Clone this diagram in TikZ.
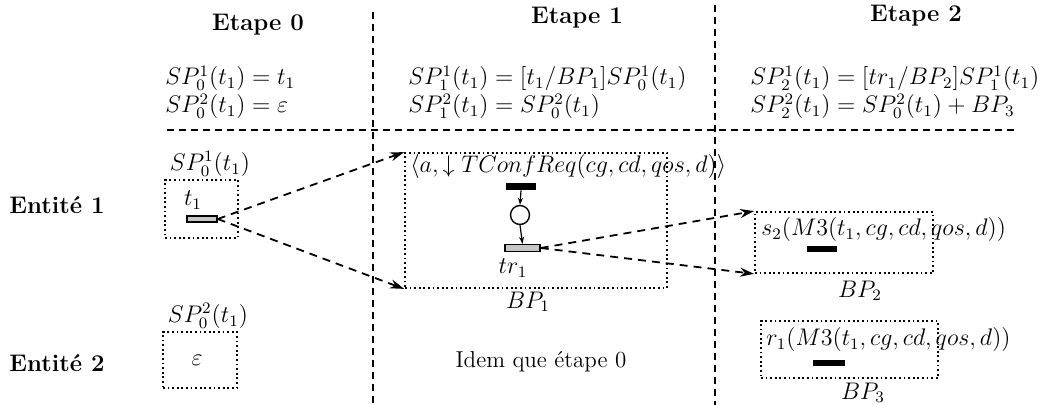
\documentclass[tikz,border=0pt]{standalone}
\usetikzlibrary{arrows.meta}
\begin{document}
\begin{tikzpicture}[x=0.5pt,y=-0.5pt,
  every node/.style={font=\fontsize{11.5}{13}\selectfont, inner sep=0pt},
  hd/.style={font=\fontsize{12}{14}\selectfont\bfseries},
  fml/.style={anchor=base west},
  dbox/.style={draw, line width=0.9pt, dash pattern=on 0.9pt off 1.4pt, rectangle, inner sep=0pt},
  sep/.style={line width=0.8pt, dash pattern=on 3.5pt off 2.5pt},
  link/.style={line width=0.9pt, dash pattern=on 4pt off 3pt, -{Stealth[length=7pt,width=4.5pt]}},
  hbar/.style={draw, line width=0.7pt, fill=gray!45, rectangle, inner sep=0pt},
  bbar/.style={fill=black, rectangle, inner sep=0pt},
  small/.style={line width=0.6pt, -{Stealth[length=3.5pt,width=2.5pt]}}
]
\useasboundingbox (0,0) rectangle (1041,405);

% headers
\node[hd] (e0) at (258,25) {Etape 0};
\node[hd] (e1) at (577,18) {Etape 1};
\node[hd] (e2) at (916,16) {Etape 2};

% formulas
\node[fml] (f01) at (165,85) {$SP^1_0(t_1) = t_1$};
\node[fml] (f02) at (165,113) {$SP^2_0(t_1) = \varepsilon$};
\node[fml] (f11) at (408,85) {$SP^1_1(t_1) = [t_1/BP_1]SP^1_0(t_1)$};
\node[fml] (f12) at (408,113) {$SP^2_1(t_1) = SP^2_0(t_1)$};
\node[fml] (f21) at (750,85) {$SP^1_2(t_1) = [tr_1/BP_2]SP^1_1(t_1)$};
\node[fml] (f22) at (750,113) {$SP^2_2(t_1) = SP^2_0(t_1) + BP_3$};

% separators
\draw[sep] (167,130) -- (1015,130);
\draw[sep] (373,12) -- (373,405);
\draw[sep] (715,5) -- (715,405);

% entities
\node[hd] (ent1) at (57,205) {Entité 1};
\node[hd] (ent2) at (57,363) {Entité 2};

% Etape 0 boxes
\node[dbox, minimum width=36.5pt, minimum height=29pt] (b01) at (201.5,209) {};
\node (l01) at (210,164) {$SP^1_0(t_1)$};
\node (t1) at (193,200) {$t_1$};
\node[hbar, minimum width=15pt, minimum height=3pt] (t1bar) at (202,219) {};

\node[dbox, minimum width=37pt, minimum height=28pt] (b02) at (200,360) {};
\node (l02) at (208,316) {$SP^2_0(t_1)$};
\node (eps) at (197,360) {$\varepsilon$};

% Etape 1 : BP1
\node[dbox, minimum width=131pt, minimum height=67.5pt] (bp1) at (536,220.5) {};
\node[anchor=west] (lbp1) at (410,167) {$\langle a, \downarrow TConfReq(cg,cd,qos,d)\rangle$};
\node[bbar, minimum width=15pt, minimum height=3.5pt] (bar1) at (521,186.5) {};
\node[draw, circle, line width=0.7pt, minimum size=9.5pt] (pl) at (520,215) {};
\node[hbar, minimum width=17.5pt, minimum height=3.5pt] (tr1bar) at (522.5,248) {};
\node (tr1) at (513,268) {$tr_1$};
\node (nbp1) at (528,302) {$BP_1$};
\draw[small] (bar1.south) -- (pl.north);
\draw[small] (pl.south) -- (tr1bar.north);

\node (idem) at (541,362) {Idem que étape 0};

% Etape 2 : BP2, BP3
\node[dbox, minimum width=89pt, minimum height=30.5pt] (bp2) at (844,242.5) {};
\node[anchor=west] (lbp2) at (761,230) {$s_2(M3(t_1,cg,cd,qos,d))$};
\node[bbar, minimum width=15pt, minimum height=3pt] (bar2) at (822,249.5) {};
\node (nbp2) at (860,291) {$BP_2$};

\node[dbox, minimum width=88.5pt, minimum height=28.5pt] (bp3) at (849.5,349.5) {};
\node[anchor=west] (lbp3) at (766,340) {$r_1(M3(t_1,cg,cd,qos,d))$};
\node[bbar, minimum width=16pt, minimum height=3pt] (bar3) at (829,363) {};
\node (nbp3) at (863,393) {$BP_3$};

% links
\draw[link] (t1bar.east) -- (bp1.north west);
\draw[link] (t1bar.east) -- (bp1.south west);
\draw[link] (tr1bar.east) -- (bp2.north west);
\draw[link] (tr1bar.east) -- (bp2.south west);
\end{tikzpicture}
\end{document}
